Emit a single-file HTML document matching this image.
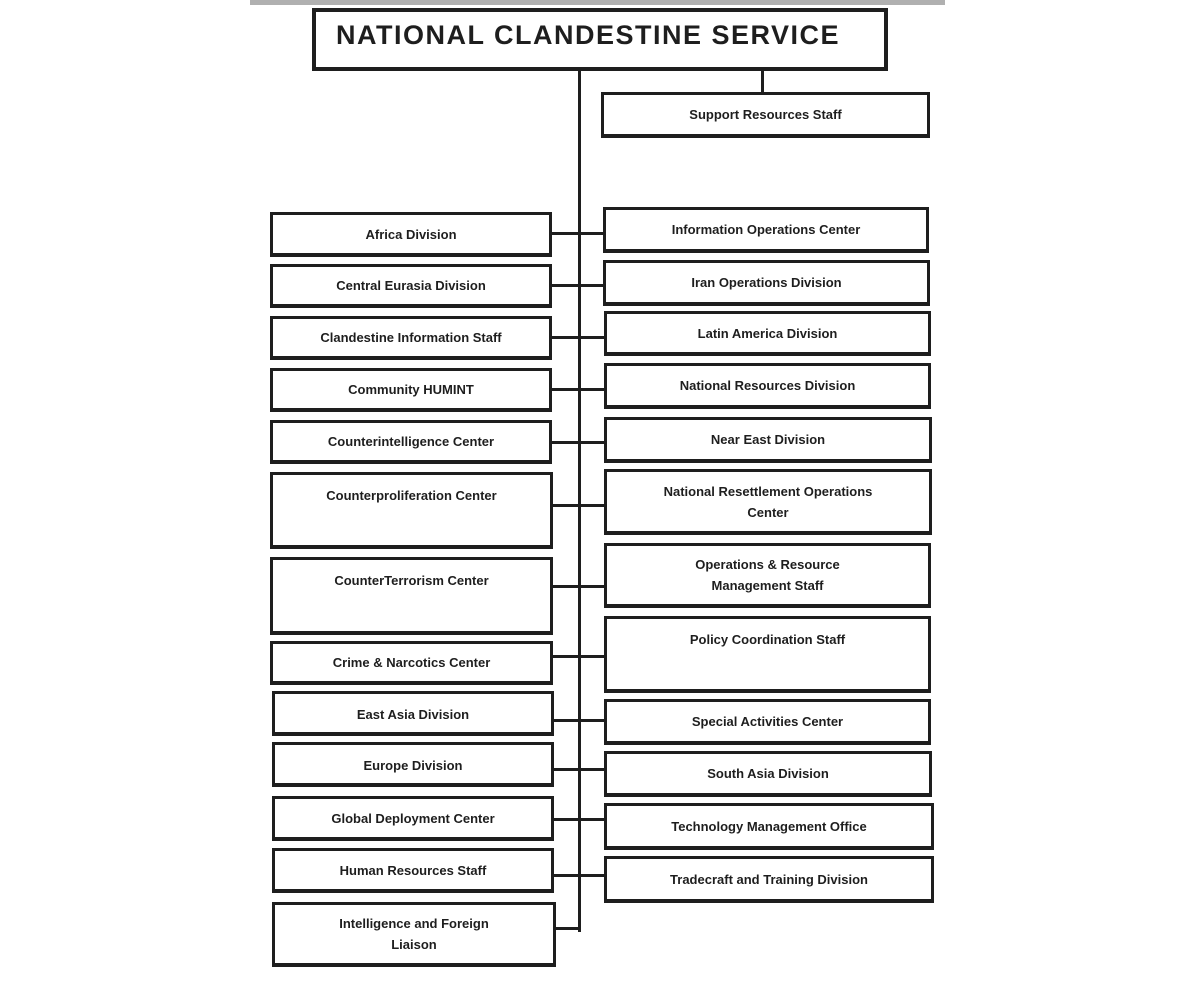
<!DOCTYPE html>
<html><head><meta charset="utf-8"><style>
body{margin:0;width:1200px;height:981px;background:#fff;position:relative;overflow:hidden;font-family:"Liberation Sans",Arial,sans-serif}
.b{position:absolute;box-sizing:border-box;border:3px solid #1e1e1e;border-bottom-width:4px;background:#fff;color:#1e1e1e;font-weight:bold;font-size:13px;text-align:center;line-height:21px;display:flex;align-items:center;justify-content:center;padding:0 20px}
.t{align-items:flex-start;padding-top:10px}
.l{position:absolute;background:#1e1e1e}
</style></head><body>
<div class="l" style="left:250px;top:0;width:695px;height:5px;background:#b0b0b0"></div>
<div class="b" style="left:312px;top:8px;width:576px;height:63px;border-width:4px;font-size:27px;justify-content:flex-start;padding-left:20px;padding-bottom:10px;line-height:30px;letter-spacing:1.5px">NATIONAL CLANDESTINE SERVICE</div>
<div class="l" style="left:578px;top:70px;width:3px;height:862px"></div>
<div class="l" style="left:761px;top:70px;width:3px;height:23px"></div>
<div class="b" style="left:601px;top:92px;width:329px;height:46px">Support Resources Staff</div>

<div class="l" style="left:552px;top:232px;width:52px;height:3px"></div>
<div class="l" style="left:552px;top:284px;width:52px;height:3px"></div>
<div class="l" style="left:552px;top:336px;width:52px;height:3px"></div>
<div class="l" style="left:552px;top:388px;width:52px;height:3px"></div>
<div class="l" style="left:552px;top:441px;width:52px;height:3px"></div>
<div class="l" style="left:552px;top:504px;width:52px;height:3px"></div>
<div class="l" style="left:552px;top:585px;width:52px;height:3px"></div>
<div class="l" style="left:552px;top:655px;width:52px;height:3px"></div>
<div class="l" style="left:552px;top:719px;width:52px;height:3px"></div>
<div class="l" style="left:552px;top:768px;width:52px;height:3px"></div>
<div class="l" style="left:552px;top:818px;width:52px;height:3px"></div>
<div class="l" style="left:552px;top:874px;width:52px;height:3px"></div>
<div class="l" style="left:556px;top:927px;width:25px;height:3px"></div>

<div class="b" style="left:270px;top:212px;width:282px;height:45px">Africa Division</div>
<div class="b" style="left:270px;top:264px;width:282px;height:44px">Central Eurasia Division</div>
<div class="b" style="left:270px;top:316px;width:282px;height:44px">Clandestine Information Staff</div>
<div class="b" style="left:270px;top:368px;width:282px;height:44px">Community HUMINT</div>
<div class="b" style="left:270px;top:420px;width:282px;height:44px">Counterintelligence Center</div>
<div class="b t" style="left:270px;top:472px;width:283px;height:77px">Counterproliferation Center</div>
<div class="b t" style="left:270px;top:557px;width:283px;height:78px">CounterTerrorism Center</div>
<div class="b" style="left:270px;top:641px;width:283px;height:44px">Crime &amp; Narcotics Center</div>
<div class="b" style="left:272px;top:691px;width:282px;height:45px;align-items:flex-start;padding-top:10px">East Asia Division</div>
<div class="b" style="left:272px;top:742px;width:282px;height:45px;align-items:flex-start;padding-top:10px">Europe Division</div>
<div class="b" style="left:272px;top:796px;width:282px;height:45px">Global Deployment Center</div>
<div class="b" style="left:272px;top:848px;width:282px;height:45px">Human Resources Staff</div>
<div class="b" style="left:272px;top:902px;width:284px;height:65px">Intelligence and Foreign<br>Liaison</div>

<div class="b" style="left:603px;top:207px;width:326px;height:46px">Information Operations Center</div>
<div class="b" style="left:603px;top:260px;width:327px;height:46px">Iran Operations Division</div>
<div class="b" style="left:604px;top:311px;width:327px;height:45px">Latin America Division</div>
<div class="b" style="left:604px;top:363px;width:327px;height:46px">National Resources Division</div>
<div class="b" style="left:604px;top:417px;width:328px;height:46px">Near East Division</div>
<div class="b" style="left:604px;top:469px;width:328px;height:66px">National Resettlement Operations<br>Center</div>
<div class="b" style="left:604px;top:543px;width:327px;height:65px">Operations &amp; Resource<br>Management Staff</div>
<div class="b t" style="left:604px;top:616px;width:327px;height:77px">Policy Coordination Staff</div>
<div class="b" style="left:604px;top:699px;width:327px;height:46px">Special Activities Center</div>
<div class="b" style="left:604px;top:751px;width:328px;height:46px">South Asia Division</div>
<div class="b" style="left:604px;top:803px;width:330px;height:47px">Technology Management Office</div>
<div class="b" style="left:604px;top:856px;width:330px;height:47px">Tradecraft and Training Division</div>
</body></html>
